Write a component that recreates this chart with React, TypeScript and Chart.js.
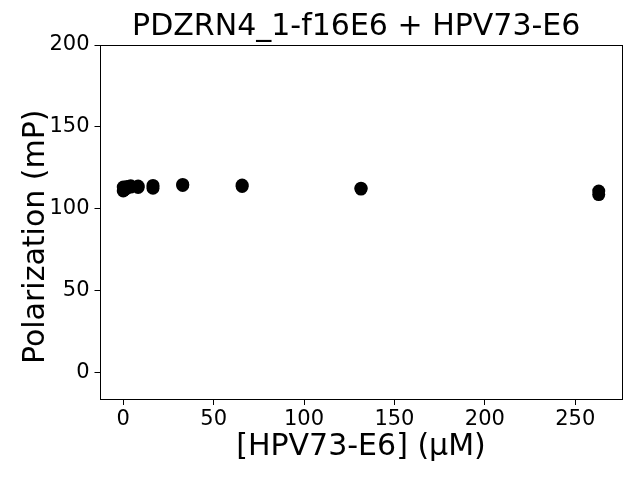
import React, { useEffect, useRef } from "react";
import { Chart, registerables } from "chart.js";

Chart.register(...registerables);

const TITLE = "PDZRN4_1-f16E6 + HPV73-E6";
const X_LABEL = "[HPV73-E6] (μM)";
const Y_LABEL = "Polarization (mP)";

const concentrations = [263, 131.5, 65.75, 32.88, 16.44, 8.22, 4.11, 2.05, 1.03, 0.51, 0];
const replicateA = [110.8, 112.0, 113.6, 114.2, 112.5, 113.0, 113.2, 112.5, 112.0, 111.5, 110.8];
const replicateB = [108.6, 112.5, 114.4, 114.8, 114.2, 113.8, 114.0, 113.6, 113.0, 113.0, 113.2];

const X_TICKS = [0, 50, 100, 150, 200, 250];
const Y_TICKS = [0, 50, 100, 150, 200];
const X_MIN = -13.15;
const X_MAX = 276.15;
const Y_MIN = -16.9;
const Y_MAX = 200;

const FONT = "'DejaVu Sans', sans-serif";

const frame = {
  id: "frame",
  afterDatasetsDraw(chart: any) {
    const { ctx, chartArea } = chart;
    ctx.save();
    ctx.strokeStyle = "#000";
    ctx.lineWidth = 1;
    ctx.strokeRect(
      Math.round(chartArea.left) + 0.5,
      Math.round(chartArea.top) + 0.5,
      Math.round(chartArea.right - chartArea.left) - 1,
      Math.round(chartArea.bottom - chartArea.top) - 1
    );
    ctx.restore();
  },
};

export default function App() {
  const ref = useRef<HTMLCanvasElement>(null);

  useEffect(() => {
    if (!ref.current) return;
    const points = [
      ...concentrations.map((c, i) => ({ x: c, y: replicateA[i] })),
      ...concentrations.map((c, i) => ({ x: c, y: replicateB[i] })),
    ];
    const chart = new Chart(ref.current, {
      type: "scatter",
      data: {
        datasets: [
          {
            data: points,
            backgroundColor: "#000",
            borderColor: "#000",
            pointRadius: 6.5,
            pointHoverRadius: 6.5,
            borderWidth: 0,
          },
        ],
      },
      options: {
        animation: false,
        responsive: false,
        events: [],
        layout: { padding: { top: 0, right: 17.5, bottom: 0, left: 0 } },
        plugins: {
          legend: { display: false },
          tooltip: { enabled: false },
          title: {
            display: true,
            text: TITLE + " ",
            fullSize: false,
            color: "#000",
            font: { family: FONT, size: 30, weight: "normal", lineHeight: 1.2 },
            padding: { top: 9, bottom: 0 },
          },
        },
        scales: {
          x: {
            type: "linear",
            min: X_MIN,
            max: X_MAX,
            afterBuildTicks: (s: any) => {
              s.ticks = X_TICKS.map((v) => ({ value: v }));
            },
            afterFit: (s: any) => {
              s.height = 80;
            },
            grid: {
              display: true,
              drawOnChartArea: false,
              drawTicks: true,
              tickLength: 5,
              color: "#000",
              lineWidth: 1,
            },
            border: { display: false },
            ticks: {
              color: "#000",
              font: { family: FONT, size: 21 },
              padding: 2,
              maxRotation: 0,
              autoSkip: false,
            },
            title: {
              display: true,
              text: X_LABEL,
              color: "#000",
              font: { family: FONT, size: 30, lineHeight: 1.2 },
              padding: { top: 0, bottom: 15 },
            },
          },
          y: {
            type: "linear",
            min: Y_MIN,
            max: Y_MAX,
            afterBuildTicks: (s: any) => {
              s.ticks = Y_TICKS.map((v) => ({ value: v }));
            },
            afterFit: (s: any) => {
              s.width = 99.5;
            },
            grid: {
              display: true,
              drawOnChartArea: false,
              drawTicks: true,
              tickLength: 5,
              color: "#000",
              lineWidth: 1,
            },
            border: { display: false },
            ticks: {
              color: "#000",
              font: { family: FONT, size: 21 },
              padding: 5,
              autoSkip: false,
            },
            title: {
              display: true,
              text: Y_LABEL + "   ",
              color: "#000",
              font: { family: FONT, size: 30, lineHeight: 1.2 },
              padding: { top: 18, bottom: 0 },
            },
          },
        },
      },
      plugins: [frame],
    });
    return () => chart.destroy();
  }, []);

  return (
    <div style={{ position: "fixed", left: 0, top: 0, width: 640, height: 480, background: "#fff" }}>
      <canvas ref={ref} width={640} height={480} style={{ width: 640, height: 480, display: "block" }} />
    </div>
  );
}
